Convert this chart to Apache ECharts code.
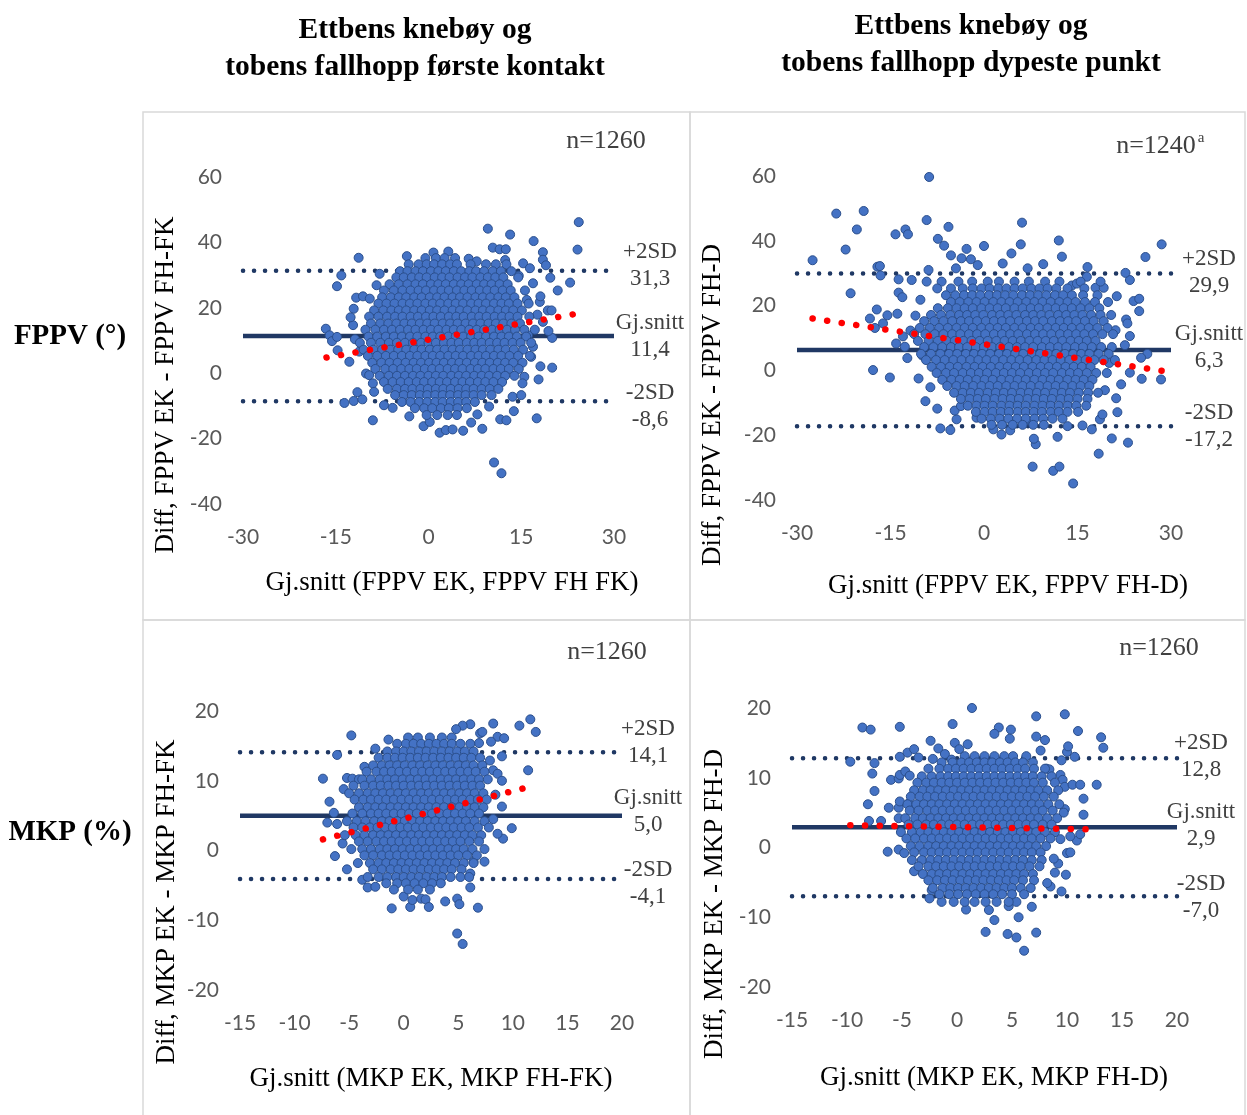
<!DOCTYPE html>
<html><head><meta charset="utf-8">
<script src="https://cdn.jsdelivr.net/npm/echarts@6/dist/echarts.min.js"></script>
<style>html,body{margin:0;padding:0;background:#fff}#c{width:1247px;height:1115px}</style>
</head><body><div id="c"></div>
<script>
// ---------- DATA ----------
const headers = ['Ettbens knebøy og\ntobens fallhopp første kontakt', 'Ettbens knebøy og\ntobens fallhopp dypeste punkt'];
const rowLabels = ['FPPV (°)', 'MKP (%)'];
const yTitles = ['Diff, FPPV EK - FPPV FH-FK', 'Diff, FPPV EK - FPPV FH-D', 'Diff, MKP EK - MKP FH-FK', 'Diff, MKP EK - MKP FH-D'];
const xTitles = ['Gj.snitt (FPPV EK, FPPV FH FK)', 'Gj.snitt (FPPV EK, FPPV FH-D)', 'Gj.snitt (MKP EK, MKP FH-FK)', 'Gj.snitt (MKP EK, MKP FH-D)'];
const nLabels = ['n=1260', 'n=1240', 'n=1260', 'n=1260'];
const statNames = ['Gj.snitt', '+2SD', '-2SD'];
// mean, +2SD, -2SD
const p1Stats = [11.4, 31.3, -8.6];
const p2Stats = [6.3, 29.9, -17.2];
const p3Stats = [5.0, 14.1, -4.1];
const p4Stats = [2.9, 12.8, -7.0];
// axis ranges [min, max, interval]
const p1X = [-30, 30, 15], p1Y = [-40, 60, 20];
const p2X = [-30, 30, 15], p2Y = [-40, 60, 20];
const p3X = [-15, 20, 5], p3Y = [-20, 20, 10];
const p4X = [-15, 20, 5], p4Y = [-20, 20, 10];
// trend line end points
const p1Trend = [[-16.5, 4.8], [24.0, 18.2]];
const p2Trend = [[-27.5, 16.0], [29.5, -0.4]];
const p3Trend = [[-7.4, 1.6], [11.2, 9.0]];
const p4Trend = [[-9.7, 3.2], [12.0, 2.6]];

// scattered points [x, y]
const p1Outliers = [[24.3,46.2],[24.1,37.8],[9.6,44.2],[13.2,42.4],[17.0,40.4],[10.4,38.4],[11.5,37.9],[12.5,37.9],[18.5,37.0],[18.5,34.7],[19.0,33.0],[-11.3,35.3],[-14.1,29.9],[-14.8,26.6],[-8.4,26.9],[20.9,25.3],[22.9,27.7],[19.7,29.2],[-16.6,13.6],[-16.0,11.6],[-15.6,9.8],[-14.8,11.1],[-14.7,7.0],[-12.8,3.5],[-12.2,14.7],[-12.1,19.7],[-11.7,23.1],[-10.6,23.5],[-9.5,22.8],[-9.0,-14.4],[-13.6,-9.1],[-12.1,-8.5],[-10.7,-8.0],[-11.5,-5.8],[20.0,1.7],[20.0,10.8],[19.4,12.9],[18.1,2.1],[17.8,-1.9],[17.5,-13.8],[13.8,-11.6],[11.6,-14.1],[12.6,-14.4],[8.7,-17.0],[5.6,-17.6],[1.8,-18.2],[2.8,-17.4],[3.9,-17.2],[-0.8,-16.2],[0.2,-14.9],[10.6,-27.3],[11.8,-30.6],[19.3,19.2],[19.9,19.2],[18.5,15.7],[18.0,21.8],[18.1,23.5],[-3.5,35.8],[0.8,36.9],[3.2,37.2],[6.5,35.0],[7.8,34.2],[15.3,33.6],[16.4,32.1],[14.6,29.8],[16.9,27.5],[-10.1,-0.1],[-9.6,-0.6],[-9.0,-3.1],[-8.8,-5.7],[15.5,-1.1],[15.2,-3.1],[13.6,-7.2],[15.0,-6.7],[16.6,5.0],[16.9,8.1],[9.8,-10.2],[7.9,-12.6],[-5.8,-10.6],[-7.2,-9.8],[-11.9,10.4],[-11.2,6.6],[-12.6,17.1],[16.1,11.6],[17.6,17.9],[15.9,22.4],[-7.9,30.4],[12.4,34.6],[-3.1,-13.2],[6.9,-15.1]];
const p2Outliers = [[-8.8,59.7],[-23.7,48.4],[-19.3,49.2],[-20.4,43.5],[-22.2,37.3],[-27.5,34.0],[-9.2,46.4],[-12.6,43.5],[-12.2,42.0],[-14.2,42.0],[-5.7,44.3],[-7.4,40.6],[-6.4,38.5],[-2.8,37.5],[0.0,38.4],[-5.3,35.5],[-3.6,34.6],[-2.1,34.3],[6.1,45.6],[5.9,38.9],[4.4,36.1],[12.0,40.1],[12.5,35.1],[28.5,38.9],[25.9,35.0],[-17.1,32.0],[-16.7,32.2],[-16.6,29.3],[-21.4,23.8],[-18.3,16.0],[-17.2,18.8],[-15.5,17.0],[-17.5,13.1],[-16.2,14.5],[-13.9,17.5],[-13.7,24.0],[-13.1,22.6],[-13.7,28.1],[-11.6,27.9],[23.4,27.9],[22.7,30.1],[24.0,21.4],[24.9,22.1],[24.9,18.3],[21.3,22.9],[16.6,31.9],[16.5,28.9],[14.1,26.2],[14.9,26.8],[17.9,25.5],[19.2,25.5],[-17.8,0.1],[-15.1,-2.2],[-10.5,-2.5],[-9.4,-9.5],[-14.1,8.3],[-12.7,7.3],[-12.3,3.8],[-7.0,-17.9],[-5.4,-18.4],[-4.4,-15.1],[-4.7,-12.4],[-3.7,-11.0],[-1.2,-14.6],[7.8,-29.7],[11.1,-31.0],[12.1,-29.7],[14.3,-34.9],[18.4,-25.7],[20.5,-21.0],[23.1,-22.3],[8.3,-22.8],[8.0,-21.1],[11.8,-20.5],[21.4,-12.9],[28.4,-2.8],[25.3,-2.6],[23.4,-0.7],[26.2,5.1],[25.2,3.9],[23.4,10.6],[22.8,15.7],[18.6,-15.1],[19.0,-13.6],[17.3,-18.2],[1.5,-18.2],[2.8,-19.8],[4.2,-18.5],[6.8,-15.3],[13.4,-17.2],[15.8,-17.0],[-8.9,31.0],[-4.5,31.5],[-1.0,32.5],[3.0,33.0],[7.0,31.5],[9.5,32.8],[-10.2,21.8],[-11.8,12.3],[-13.0,10.5],[23.0,14.5],[22.6,7.8],[22.0,-4.3],[21.2,-8.6],[-7.5,-11.8],[-8.6,-5.2],[21.1,12.4],[20.1,2.3],[19.4,-6.1],[-9.9,4.6],[-11.0,16.9]];
const p3Outliers = [[6.4,20.7],[6.6,20.2],[9.0,20.9],[11.6,18.8],[12.1,17.0],[10.6,17.9],[8.2,18.2],[6.1,18.1],[5.4,17.9],[4.8,17.4],[-4.8,16.5],[-6.1,13.7],[-7.4,10.3],[-6.8,7.0],[11.4,11.5],[9.9,3.2],[9.0,6.3],[8.6,16.3],[9.2,16.1],[8.0,15.6],[9.0,13.5],[8.2,11.5],[8.6,11.0],[9.0,10.0],[7.0,16.8],[7.2,17.0],[6.9,15.4],[-3.6,12.0],[-5.5,8.8],[-5.2,10.4],[-4.7,10.3],[-4.1,10.2],[-6.1,3.8],[-7.0,4.0],[4.9,-11.9],[5.4,-13.4],[-1.1,-8.3],[6.8,-8.2],[3.8,-7.3],[4.9,-6.9],[5.1,-7.7],[0.0,-6.6],[0.6,-8.1],[0.8,-7.1],[1.6,-6.9],[2.0,-7.0],[2.3,-8.1],[-5.2,-2.7],[-3.8,-4.2],[-3.3,-5.3],[-2.6,-5.2],[6.1,-5.3],[9.1,1.7],[7.4,-1.6],[6.4,-1.6],[6.1,-3.3],[-6.3,-0.8],[-5.6,1.0],[8.4,8.0],[8.2,4.5],[8.6,2.4],[7.9,12.9],[-2.6,14.6],[-1.4,15.9],[-6.4,5.4]];
const p4Outliers = [[0.27,22.7],[-1.37,21.1],[1.36,20.0],[-8.7,20.3],[-8.6,17.2],[-7.85,16.9],[-5.2,17.3],[-0.4,17.7],[7.2,18.8],[9.8,19.1],[11.0,16.7],[13.1,15.8],[13.3,14.3],[7.2,15.9],[8.0,15.4],[7.6,13.9],[3.8,17.2],[3.4,16.3],[4.9,16.9],[4.8,15.6],[-2.4,15.3],[-0.2,15.0],[0.21,14.1],[0.97,14.8],[-1.7,14.2],[-1.1,13.4],[-0.5,12.6],[-4.5,13.6],[-3.9,14.1],[-3.5,12.9],[-2.2,12.7],[-9.7,12.3],[-7.5,12.1],[-7.7,10.6],[-5.2,13.0],[-6.0,9.7],[-5.3,9.9],[-5.2,10.4],[-4.7,10.9],[-4.3,10.3],[-7.5,8.1],[-8.1,6.2],[-6.2,5.7],[-5.3,5.7],[-5.2,6.6],[-8.0,3.8],[-6.9,3.8],[-5.3,4.2],[-4.4,6.3],[-4.1,5.6],[10.7,13.0],[9.5,12.5],[10.0,13.7],[10.1,14.5],[8.15,11.3],[8.4,11.2],[9.4,10.4],[9.6,9.7],[9.8,8.7],[10.5,9.0],[11.2,9.0],[12.7,9.0],[11.5,7.0],[11.5,4.7],[9.8,5.5],[9.7,5.0],[6.1,-14.8],[7.2,-12.2],[4.6,-12.4],[5.4,-12.9],[2.6,-12.1],[5.6,-10.0],[3.4,-10.4],[0.82,-8.9],[2.9,-8.96],[6.8,-8.5],[4.7,-8.4],[5.4,-7.8],[-1.4,-7.8],[-2.5,-7.3],[-2.3,-6.1],[-6.3,-0.6],[-3.9,-3.4],[9.9,-3.9],[9.5,-6.3],[8.5,-5.6],[8.2,-5.1],[10.0,-0.8],[10.3,-0.7],[9.2,-2.3],[8.9,-3.6],[10.9,1.0],[11.2,1.9],[10.3,1.6],[9.4,1.2],[8.8,-1.6],[-5.3,-0.3],[-4.8,-0.8]];

// dense clouds, row by row: [y, [x values]]
const p1Core = [
[35.2,[-0.5,1.2,2.6,4.3]],
[33.3,[-3.2,-1.6,-0.3,0.9,2.2,3.5,4.6,6.8,9.3,10.9,12.6]],
[31.2,[-4.6,-3.4,-2.1,-0.9,0.4,1.6,2.8,4.1,5.3,6.6,7.7,9,10.4,11.7,13.4]],
[29.3,[-5.2,-4,-2.7,-1.5,-0.3,1,2.2,3.4,4.7,5.9,7.1,8.4,9.6,10.8,12.1,14.5]],
[27.2,[-6.3,-4.8,-3.4,-2.1,-0.9,0.4,1.6,2.8,4.1,5.3,6.5,7.8,9,10.2,11.5,12.8]],
[25.3,[-7.2,-5.6,-4.2,-2.9,-1.6,-0.4,0.9,2.1,3.3,4.6,5.8,7,8.3,9.5,10.7,12,13.3,15.6]],
[23.2,[-7.5,-6.1,-4.8,-3.6,-2.3,-1.1,0.2,1.4,2.6,3.9,5.1,6.3,7.6,8.8,10,11.3,12.5,13.9]],
[21.3,[-8.1,-6.8,-5.5,-4.2,-3,-1.8,-0.5,0.7,1.9,3.2,4.4,5.6,6.9,8.1,9.3,10.6,11.8,13,14.4,16.2]],
[19.2,[-8.8,-7.3,-6,-4.8,-3.6,-2.3,-1.1,0.2,1.4,2.6,3.9,5.1,6.3,7.6,8.8,10,11.3,12.5,13.7,15.1]],
[17.3,[-9.6,-8.1,-6.7,-5.4,-4.2,-2.9,-1.7,-0.4,0.8,2,3.3,4.5,5.7,7,8.2,9.4,10.7,11.9,13.1,14.4,16.3]],
[15.2,[-9.3,-7.8,-6.5,-5.2,-3.9,-2.7,-1.4,-0.2,1,2.3,3.5,4.7,6,7.2,8.4,9.7,10.9,12.1,13.4,14.8]],
[13.3,[-10.2,-8.6,-7.2,-5.9,-4.6,-3.3,-2.1,-0.8,0.4,1.6,2.9,4.1,5.3,6.6,7.8,9,10.3,11.5,12.7,14,15.5,17.2]],
[11.2,[-9.7,-8.3,-6.9,-5.6,-4.3,-3,-1.8,-0.5,0.7,1.9,3.2,4.4,5.6,6.9,8.1,9.3,10.6,11.8,13,14.3,15.8]],
[9.3,[-11.1,-9.3,-7.8,-6.4,-5.1,-3.8,-2.5,-1.2,0,1.2,2.5,3.7,4.9,6.2,7.4,8.6,9.9,11.1,12.3,13.6,14.9,16.6]],
[7.2,[-10.5,-8.9,-7.5,-6.2,-4.9,-3.6,-2.3,-1.1,0.2,1.4,2.6,3.9,5.1,6.3,7.6,8.8,10,11.3,12.5,13.8,15.3]],
[5.3,[-9.8,-8.3,-6.9,-5.6,-4.3,-3,-1.8,-0.5,0.7,1.9,3.2,4.4,5.6,6.9,8.1,9.3,10.6,11.8,13.1,14.5,16.4]],
[3.2,[-9.1,-7.6,-6.3,-5,-3.7,-2.4,-1.2,0.1,1.3,2.5,3.8,5,6.2,7.5,8.7,9.9,11.2,12.4,13.7,15.2]],
[1.3,[-8.6,-7,-5.7,-4.4,-3.1,-1.9,-0.6,0.6,1.8,3.1,4.3,5.5,6.8,8,9.2,10.5,11.7,13,14.6]],
[-0.8,[-7.9,-6.4,-5.1,-3.8,-2.5,-1.3,0,1.2,2.4,3.7,4.9,6.1,7.4,8.6,9.8,11.1,12.4,13.9]],
[-2.7,[-7.2,-5.8,-4.5,-3.2,-1.9,-0.7,0.6,1.8,3,4.3,5.5,6.7,8,9.2,10.5,11.9]],
[-4.8,[-6.6,-5.1,-3.8,-2.6,-1.3,-0.1,1.2,2.4,3.6,4.9,6.1,7.3,8.6,9.9,11.3]],
[-6.7,[-5.4,-4,-2.7,-1.4,-0.2,1.1,2.3,3.5,4.8,6,7.3,8.6,10.2]],
[-8.8,[-4.3,-2.9,-1.5,-0.2,1.1,2.3,3.6,4.8,6.1,7.5]],
[-10.7,[-2.2,-0.7,0.6,2,3.3,4.7,6.2]],
[-12.8,[-0.3,1.4,3.1,4.6]]
];
const p2Core = [
[27.4,[-9.2,-6.8,-4.1,-1.9,0.6,2.4,4.9,7.2,9.8,12.1,15.5,18.7]],
[25.3,[-7.5,-5.3,-3.4,-1.8,-0.4,0.9,2.3,3.6,4.9,6.2,7.6,8.9,10.2,11.6,13.4,16.1]],
[23.2,[-6.1,-4.6,-3.2,-1.9,-0.6,0.8,2.1,3.4,4.7,6.1,7.4,8.7,10,11.4,12.7,14.1,15.9,18.2]],
[21.1,[-5.3,-3.9,-2.5,-1.2,0.1,1.5,2.8,4.1,5.4,6.8,8.1,9.4,10.7,12.1,13.4,14.7,16.2,17.8,19.9]],
[19.2,[-7.4,-5.8,-4.4,-3.1,-1.8,-0.4,0.9,2.2,3.5,4.9,6.2,7.5,8.8,10.2,11.5,12.8,14.1,15.5,16.9,18.5]],
[17.1,[-8.5,-6.9,-5.4,-4,-2.7,-1.4,-0.1,1.3,2.6,3.9,5.2,6.6,7.9,9.2,10.5,11.9,13.2,14.5,15.8,17.2,18.7,20.4]],
[15.2,[-9.6,-8,-6.5,-5.1,-3.7,-2.4,-1.1,0.3,1.6,2.9,4.2,5.6,6.9,8.2,9.5,10.9,12.2,13.5,14.8,16.2,17.6,19.2]],
[13.1,[-10.3,-8.7,-7.2,-5.8,-4.4,-3.1,-1.8,-0.4,0.9,2.2,3.5,4.9,6.2,7.5,8.8,10.2,11.5,12.8,14.1,15.5,16.8,18.2,19.8]],
[11.2,[-11.2,-9.4,-7.9,-6.5,-5.1,-3.8,-2.4,-1.1,0.2,1.6,2.9,4.2,5.5,6.9,8.2,9.5,10.8,12.2,13.5,14.8,16.1,17.5,19,20.7]],
[9.1,[-10.6,-8.9,-7.4,-6,-4.7,-3.3,-2,-0.7,0.6,2,3.3,4.6,5.9,7.3,8.6,9.9,11.2,12.6,13.9,15.2,16.5,17.9]],
[7.2,[-9.6,-8.1,-6.7,-5.3,-4,-2.7,-1.3,0,1.3,2.6,4,5.3,6.6,7.9,9.3,10.6,11.9,13.2,14.6,15.9,17.3,18.8,20.5]],
[5.1,[-10.1,-8.5,-7,-5.6,-4.3,-2.9,-1.6,-0.3,1,2.4,3.7,5,6.3,7.7,9,10.3,11.6,13,14.3,15.6,16.9,18.4,20]],
[3.2,[-9.3,-7.7,-6.3,-4.9,-3.6,-2.2,-0.9,0.4,1.7,3.1,4.4,5.7,7,8.4,9.7,11,12.3,13.7,15,16.3,17.7,19.2,21]],
[1.1,[-8.4,-6.9,-5.5,-4.2,-2.8,-1.5,-0.2,1.1,2.5,3.8,5.1,6.4,7.8,9.1,10.4,11.7,13.1,14.4,15.7,17.1]],
[-0.8,[-7.6,-6.1,-4.8,-3.4,-2.1,-0.8,0.5,1.9,3.2,4.5,5.8,7.2,8.5,9.8,11.1,12.5,13.8,15.1,16.5,18,19.7]],
[-2.9,[-6.7,-5.2,-3.9,-2.6,-1.2,0.1,1.4,2.8,4.1,5.4,6.7,8.1,9.4,10.7,12,13.4,14.7,16,17.4]],
[-4.8,[-5.9,-4.4,-3.1,-1.7,-0.4,0.9,2.2,3.6,4.9,6.2,7.5,8.9,10.2,11.5,12.8,14.2,15.5,16.9]],
[-6.9,[-4.8,-3.4,-2.1,-0.8,0.6,1.9,3.2,4.5,5.9,7.2,8.5,9.8,11.2,12.5,13.8,15.2,16.7,18.3]],
[-8.8,[-3.7,-2.3,-1,0.3,1.7,3,4.3,5.6,7,8.3,9.6,10.9,12.3,13.6,15,16.6]],
[-10.9,[-2.6,-1.2,0.1,1.4,2.8,4.1,5.4,6.7,8.1,9.4,10.7,12,13.4,14.8,16.4]],
[-12.8,[-1.3,0.1,1.4,2.7,4,5.4,6.7,8,9.3,10.7,12,13.4,15.1]],
[-14.9,[-0.4,1.1,2.5,3.9,5.3,6.7,8.1,9.5,11,12.6]],
[-16.8,[1.2,2.9,4.6,6.2,7.9,9.6]]
];
const p3Core = [
[16.2,[0.4,1.3,2.4,3.5,4.4]],
[15.3,[-0.6,0.2,0.9,1.6,2.3,3,3.7,4.4,5.2,6.1]],
[14.2,[-1.5,-0.7,0,0.7,1.4,2.1,2.8,3.5,4.2,4.9,5.6,6.4]],
[13.3,[-2.3,-1.5,-0.8,-0.1,0.6,1.3,2,2.7,3.4,4.1,4.8,5.5,6.2,7]],
[12.2,[-2.8,-2,-1.3,-0.6,0.1,0.8,1.5,2.2,2.9,3.6,4.3,5,5.7,6.4,7.2]],
[11.3,[-3.4,-2.5,-1.8,-1.1,-0.4,0.3,1,1.7,2.4,3.1,3.8,4.5,5.2,5.9,6.6,7.4]],
[10.2,[-3.8,-3,-2.2,-1.5,-0.8,-0.1,0.6,1.3,2,2.7,3.4,4.1,4.8,5.5,6.2,6.9,7.7]],
[9.3,[-4.6,-3.6,-2.8,-2.1,-1.4,-0.7,0,0.7,1.4,2.1,2.8,3.5,4.2,4.9,5.6,6.3,7]],
[8.2,[-5,-4.1,-3.3,-2.6,-1.9,-1.2,-0.5,0.2,0.9,1.6,2.3,3,3.7,4.4,5.1,5.8,6.5,7.3]],
[7.3,[-4.5,-3.7,-3,-2.3,-1.6,-0.9,-0.2,0.5,1.2,1.9,2.6,3.3,4,4.7,5.4,6.1,6.8,7.6]],
[6.2,[-4.1,-3.3,-2.6,-1.9,-1.2,-0.5,0.2,0.9,1.6,2.3,3,3.7,4.4,5.1,5.8,6.5,7.3]],
[5.3,[-4.7,-3.8,-3,-2.3,-1.6,-0.9,-0.2,0.5,1.2,1.9,2.6,3.3,4,4.7,5.4,6.1,6.9]],
[4.2,[-5.2,-4.3,-3.5,-2.7,-2,-1.3,-0.6,0.1,0.8,1.5,2.2,2.9,3.6,4.3,5,5.7,6.5,7.4]],
[3.3,[-4.6,-3.8,-3.1,-2.4,-1.7,-1,-0.3,0.4,1.1,1.8,2.5,3.2,3.9,4.6,5.3,6,6.8,7.8]],
[2.2,[-5.4,-4.4,-3.6,-2.8,-2.1,-1.4,-0.7,0,0.7,1.4,2.1,2.8,3.5,4.2,4.9,5.6,6.3,7.1]],
[1.3,[-4.1,-3.3,-2.5,-1.8,-1.1,-0.4,0.3,1,1.7,2.4,3.1,3.8,4.5,5.2,6,6.9]],
[0.2,[-4.8,-3.8,-3,-2.2,-1.5,-0.8,-0.1,0.6,1.3,2,2.7,3.4,4.1,4.8,5.5,6.3,7.4]],
[-0.7,[-3.6,-2.8,-2,-1.3,-0.6,0.1,0.8,1.5,2.2,2.9,3.6,4.3,5,5.8,6.7]],
[-1.8,[-4.2,-3.1,-2.3,-1.6,-0.9,-0.2,0.5,1.2,1.9,2.6,3.3,4,4.7,5.5,6.4]],
[-2.7,[-2.8,-2,-1.2,-0.5,0.2,0.9,1.6,2.3,3,3.7,4.4,5.3]],
[-3.8,[-3.3,-2.3,-1.5,-0.7,0,0.7,1.4,2.1,2.8,3.5,4.3,5.2,6.0]],
[-4.7,[-1.6,-0.6,0.2,1,1.8,2.6,3.4]],
[-5.6,[-0.9,0.4,1.3,2.4]]
];
const p4Core = [
[13.1,[0.7,1.6,2.5,3.4,4.3,5.1,6.3]],
[12.2,[-1.4,-0.4,0.4,1.1,1.8,2.5,3.2,3.9,4.6,5.3,6,6.9]],
[11.3,[-2.6,-1.6,-0.8,-0.1,0.6,1.3,2,2.7,3.4,4.1,4.8,5.5,6.2,7,8]],
[10.2,[-3.2,-2.3,-1.5,-0.8,-0.1,0.6,1.3,2,2.7,3.4,4.1,4.8,5.5,6.2,6.9,7.7,8.6]],
[9.3,[-3.6,-2.8,-2.1,-1.4,-0.7,0,0.7,1.4,2.1,2.8,3.5,4.2,4.9,5.6,6.3,7,7.8,8.9]],
[8.2,[-3.9,-3.1,-2.4,-1.7,-1,-0.3,0.4,1.1,1.8,2.5,3.2,3.9,4.6,5.3,6,6.7,7.4,8.2,9.2]],
[7.3,[-4.2,-3.4,-2.7,-2,-1.3,-0.6,0.1,0.8,1.5,2.2,2.9,3.6,4.3,5,5.7,6.4,7.1,7.9,8.8]],
[6.2,[-4.5,-3.7,-3,-2.3,-1.6,-0.9,-0.2,0.5,1.2,1.9,2.6,3.3,4,4.7,5.4,6.1,6.8,7.5,8.3,9.3]],
[5.3,[-4.3,-3.5,-2.7,-2,-1.3,-0.6,0.1,0.8,1.5,2.2,2.9,3.6,4.3,5,5.7,6.4,7.1,7.8,8.7]],
[4.2,[-4.7,-3.8,-3.1,-2.4,-1.7,-1,-0.3,0.4,1.1,1.8,2.5,3.2,3.9,4.6,5.3,6,6.7,7.4,8.2,9.1]],
[3.3,[-4.4,-3.6,-2.8,-2.1,-1.4,-0.7,0,0.7,1.4,2.1,2.8,3.5,4.2,4.9,5.6,6.3,7,7.8,8.6]],
[2.2,[-5.1,-4.1,-3.3,-2.6,-1.9,-1.2,-0.5,0.2,0.9,1.6,2.3,3,3.7,4.4,5.1,5.8,6.5,7.2,8,8.9]],
[1.3,[-4.6,-3.8,-3,-2.3,-1.6,-0.9,-0.2,0.5,1.2,1.9,2.6,3.3,4,4.7,5.4,6.1,6.8,7.6,8.5]],
[0.2,[-4.2,-3.4,-2.6,-1.9,-1.2,-0.5,0.2,0.9,1.6,2.3,3,3.7,4.4,5.1,5.8,6.5,7.2,8.1]],
[-0.7,[-3.9,-3,-2.3,-1.6,-0.9,-0.2,0.5,1.2,1.9,2.6,3.3,4,4.7,5.4,6.1,6.8,7.6]],
[-1.8,[-4.1,-3.2,-2.4,-1.7,-1,-0.3,0.4,1.1,1.8,2.5,3.2,3.9,4.6,5.3,6,6.8,7.7]],
[-2.7,[-3.5,-2.6,-1.9,-1.2,-0.5,0.2,0.9,1.6,2.3,3,3.7,4.4,5.1,5.8,6.6,7.5]],
[-3.8,[-3.1,-2.3,-1.6,-0.9,-0.2,0.5,1.2,1.9,2.6,3.3,4,4.7,5.4,6.1,6.9]],
[-4.7,[-2.6,-1.8,-1.1,-0.4,0.3,1,1.7,2.4,3.1,3.8,4.5,5.2,6,7]],
[-5.8,[-2.2,-1.3,-0.6,0.1,0.8,1.5,2.2,2.9,3.6,4.3,5,5.8,6.7]],
[-6.7,[-1.6,-0.7,0.1,0.9,1.7,2.5,3.3,4.1,5,6.1]],
[-7.8,[-0.3,0.7,1.6,2.6,3.6,4.7]]
];

// ---------- BUILD ----------
const SERIF = "'Liberation Serif','Times New Roman',serif";
const SANS = "Lato,'Open Sans',sans-serif";
function points(outliers, core) {
  const pts = outliers.slice();
  core.forEach(r => r[1].forEach(x => pts.push([x, r[0]])));
  return pts;
}
// layout: grid box, label x-centre, label vertical nudge (px, up) for [mean, +2SD, -2SD]
const panels = [
  {stats: p1Stats, xr: p1X, yr: p1Y, trend: p1Trend, pts: points(p1Outliers, p1Core),
   grid: {left: 243, top: 177, width: 371, height: 327}, labX: 650, shift: [-1, 5, -5]},
  {stats: p2Stats, xr: p2X, yr: p2Y, trend: p2Trend, pts: points(p2Outliers, p2Core),
   grid: {left: 797, top: 176, width: 374, height: 324}, labX: 1209, shift: [3, 1.5, -0.5]},
  {stats: p3Stats, xr: p3X, yr: p3Y, trend: p3Trend, pts: points(p3Outliers, p3Core),
   grid: {left: 240, top: 711, width: 382, height: 279}, labX: 648, shift: [4, 10, -4]},
  {stats: p4Stats, xr: p4X, yr: p4Y, trend: p4Trend, pts: points(p4Outliers, p4Core),
   grid: {left: 792, top: 708, width: 385, height: 279}, labX: 1201, shift: [2, 2, -1]}
];
const fmt = v => v.toFixed(1).replace('.', ',');
const grids = [], xAxes = [], yAxes = [], series = [];
panels.forEach((p, i) => {
  grids.push(p.grid);
  const axisCommon = {type: 'value', axisLine: {show: false}, axisTick: {show: false}, splitLine: {show: false}};
  xAxes.push(Object.assign({gridIndex: i, min: p.xr[0], max: p.xr[1], interval: p.xr[2],
    axisLabel: {color: '#595959', fontFamily: SANS, fontSize: 21, margin: 23}}, axisCommon));
  yAxes.push(Object.assign({gridIndex: i, min: p.yr[0], max: p.yr[1], interval: p.yr[2],
    axisLabel: {color: '#595959', fontFamily: SANS, fontSize: 21, margin: 21}}, axisCommon));
  p.stats.forEach((v, k) => {
    series.push({
      type: 'line', xAxisIndex: i, yAxisIndex: i, z: 1, silent: true, symbol: 'none',
      data: [[p.xr[0], v], [p.xr[1], v]],
      lineStyle: k === 0 ? {color: '#203864', width: 4.5, type: 'solid'} :
                           {color: '#1F3864', width: 4.5, type: [0.1, 10.9], cap: 'round'}
    });
  });
  series.push({
    type: 'scatter', xAxisIndex: i, yAxisIndex: i, z: 2, silent: true, symbol: 'circle', symbolSize: 9,
    itemStyle: {color: '#4472C4', borderColor: '#2B4F8C', borderWidth: 1, opacity: 1},
    data: p.pts
  });
  series.push({
    type: 'line', xAxisIndex: i, yAxisIndex: i, z: 3, silent: true, symbol: 'none',
    data: p.trend, lineStyle: {color: '#FF0000', width: 6.5, type: [0.1, 14.6], cap: 'round'}
  });
});

const chart = echarts.init(document.getElementById('c'), null, {renderer: 'canvas'});
chart.setOption({
  animation: false,
  backgroundColor: '#fff',
  grid: grids, xAxis: xAxes, yAxis: yAxes, series: series
});

const graphic = [];
// panel frames
[[143, 112, 547, 508], [690, 112, 555, 508], [143, 620, 547, 500], [690, 620, 555, 500]].forEach(r => {
  graphic.push({type: 'rect', shape: {x: r[0], y: r[1], width: r[2], height: r[3]}, silent: true,
    style: {fill: 'none', stroke: '#D9D9D9', lineWidth: 1.5}, z: 0});
});
// headers
[[415, 49], [971, 44.5]].forEach((pos, i) => {
  graphic.push({type: 'text', x: pos[0], y: pos[1], style: {text: headers[i], fontFamily: SERIF, fontWeight: 'bold',
    fontSize: 29.5, lineHeight: 37, fill: '#000', align: 'center', verticalAlign: 'middle'}});
});
// row labels
[[70, 337], [70, 833]].forEach((pos, i) => {
  graphic.push({type: 'text', x: pos[0], y: pos[1], style: {text: rowLabels[i], fontFamily: SERIF, fontWeight: 'bold',
    fontSize: 29, fill: '#000', align: 'center', verticalAlign: 'middle'}});
});
// y titles (rotated)
[[166, 385], [713, 405], [167, 902], [715, 904]].forEach((pos, i) => {
  graphic.push({type: 'text', x: pos[0], y: pos[1], rotation: Math.PI / 2, style: {text: yTitles[i], fontFamily: SERIF,
    fontSize: 27, fill: '#000', align: 'center', verticalAlign: 'middle'}});
});
// x titles
[[452, 583], [1008, 586], [431, 1079], [994, 1078]].forEach((pos, i) => {
  graphic.push({type: 'text', x: pos[0], y: pos[1], style: {text: xTitles[i], fontFamily: SERIF,
    fontSize: 27, fill: '#000', align: 'center', verticalAlign: 'middle'}});
});
// n labels
[[606, 141], [1156, 146], [607, 652], [1159, 648]].forEach((pos, i) => {
  graphic.push({type: 'text', x: pos[0], y: pos[1], style: {text: nLabels[i], fontFamily: SERIF,
    fontSize: 26, fill: '#404040', align: 'center', verticalAlign: 'middle'}});
});
graphic.push({type: 'text', x: 1201, y: 138, style: {text: 'a', fontFamily: SERIF, fontSize: 15, fill: '#404040',
  align: 'center', verticalAlign: 'middle'}});
// mean / limit labels, placed from the axis scale
panels.forEach((p, i) => {
  p.stats.forEach((v, k) => {
    const py = chart.convertToPixel({gridIndex: i}, [p.xr[1], v])[1];
    graphic.push({type: 'text', x: p.labX, y: py - p.shift[k], style: {text: statNames[k] + '\n' + fmt(v),
      fontFamily: SERIF, fontSize: 23, lineHeight: 27, fill: '#404040', align: 'center', verticalAlign: 'middle'}});
  });
});
chart.setOption({graphic: graphic});
</script>
</body></html>
